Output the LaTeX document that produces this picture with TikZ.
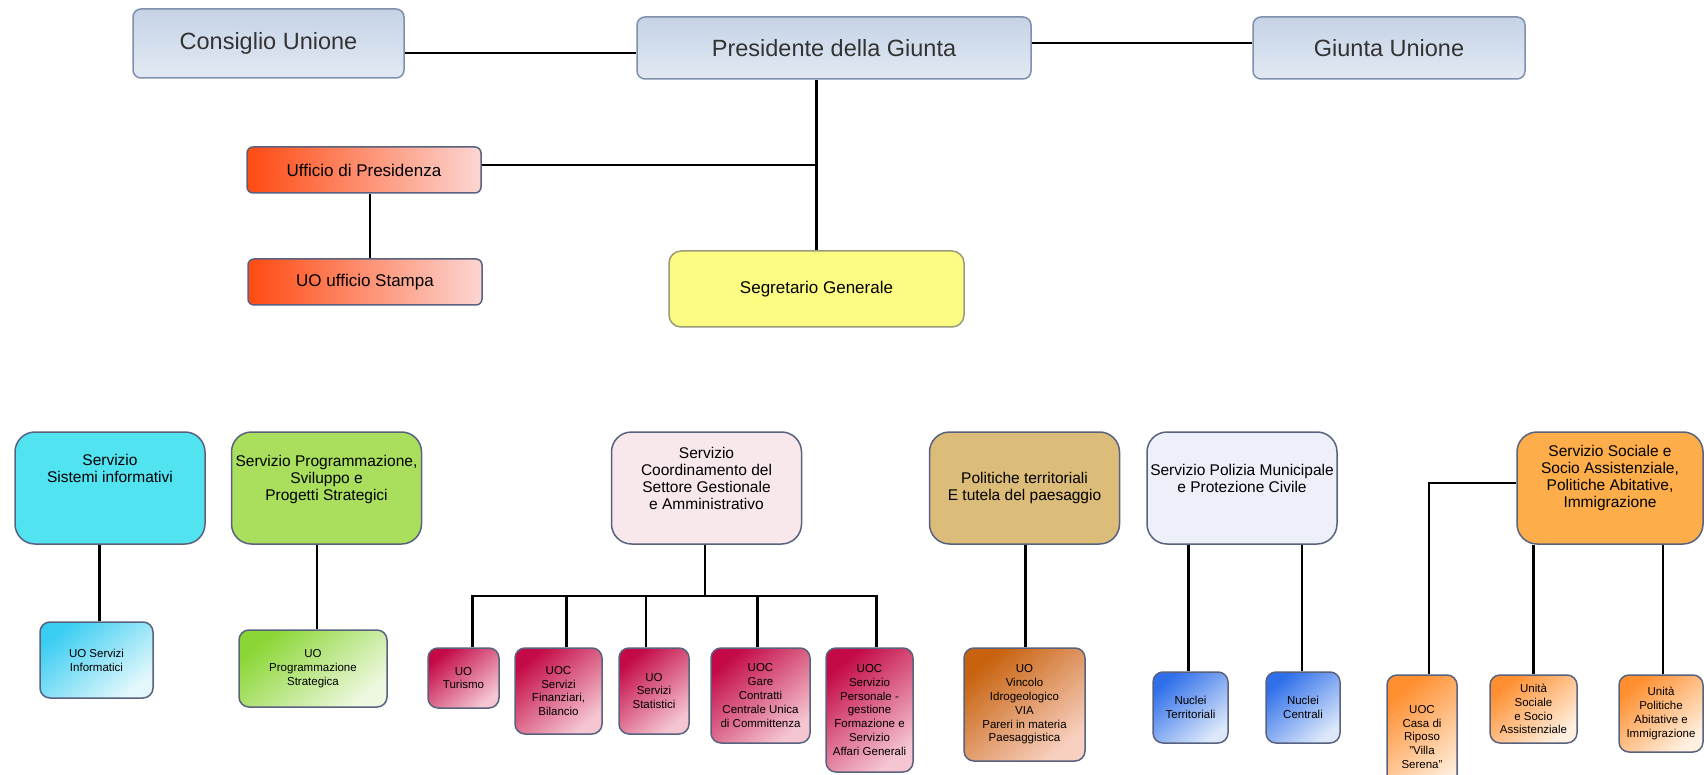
\documentclass[tikz,border=0pt]{standalone}
\usepackage{fontspec}
\setmainfont{Liberation Sans}
\usepackage{tikz}

\definecolor{headTop}{HTML}{C5D3E6}
\definecolor{headBottom}{HTML}{E2E9F3}
\definecolor{headLine}{HTML}{7F90AE}
\definecolor{staffLeft}{HTML}{FF4A12}
\definecolor{staffRight}{HTML}{FCD6D2}
\definecolor{boxLine}{HTML}{58627E}
\definecolor{segFill}{HTML}{FCFC82}
\definecolor{segLine}{HTML}{9A9A78}
\definecolor{sisFill}{HTML}{52E3F1}
\definecolor{progFill}{HTML}{A9DF5C}
\definecolor{coordFill}{HTML}{F8E8EC}
\definecolor{polFill}{HTML}{DBBC78}
\definecolor{pmFill}{HTML}{EDEFF9}
\definecolor{socFill}{HTML}{FDAE4A}
\definecolor{infoTop}{HTML}{3ACDF2}
\definecolor{infoBot}{HTML}{E4F8FC}
\definecolor{stratTop}{HTML}{8AD634}
\definecolor{stratBot}{HTML}{EEF8E0}
\definecolor{crimTop}{HTML}{C40A46}
\definecolor{crimBot}{HTML}{F5C6D2}
\definecolor{vincTop}{HTML}{C8620E}
\definecolor{vincBot}{HTML}{F8D0C0}
\definecolor{nucTop}{HTML}{2F6FEA}
\definecolor{nucBot}{HTML}{DCE8FA}
\definecolor{socTop}{HTML}{FF8E2E}
\definecolor{socBot}{HTML}{FFF0E0}

\tikzset{
  headbox/.style={draw=headLine, line width=1.5pt, rounded corners=8pt,
    top color=headTop, bottom color=headBottom, text=black!80,
    font=\fontsize{23.5}{28}\selectfont},
  staffbox/.style={draw=boxLine, line width=1.5pt, rounded corners=6pt,
    left color=staffLeft, right color=staffRight,
    minimum width=234pt, minimum height=46pt, font=\fontsize{17}{20}\selectfont},
  servbox/.style={draw=boxLine, line width=1.5pt, rounded corners=20pt, align=center,
    minimum width=190pt, minimum height=112pt, inner xsep=2pt, text depth=20pt,
    font=\fontsize{15.5}{17}\selectfont},
  unitbox/.style={draw=boxLine, line width=1.5pt, rounded corners=10pt, align=center,
    inner sep=2pt, font=\fontsize{11.5}{13.8}\selectfont},
  unitshade/.style 2 args={top color=#1, bottom color=#2, shading angle=40},
  link/.style={line width=2.2pt}
}

\begin{document}
\begin{tikzpicture}[x=1pt,y=-1pt]
\useasboundingbox (0,0) rectangle (1704,775);

\node[headbox, minimum width=271pt, minimum height=69pt] (consiglio) at (268.5,43.5) {Consiglio Unione};
\node[headbox, minimum width=394pt, minimum height=62pt] (presidente) at (834,48) {Presidente della Giunta};
\node[headbox, minimum width=272pt, minimum height=62pt] (giunta) at (1389,48) {Giunta Unione};

\node[staffbox] (ufficio) at (364,170) {Ufficio di Presidenza};
\node[staffbox] (stampa) at (365,282) {UO ufficio Stampa};
\node[draw=segLine, line width=1.5pt, rounded corners=12pt, fill=segFill,
  minimum width=295pt, minimum height=76pt, font=\fontsize{17}{20}\selectfont]
  (segretario) at (816.5,289) {Segretario Generale};

\node[servbox, fill=sisFill, text depth=40pt] (sistemi) at (110,488) {Servizio\\Sistemi informativi};
\node[servbox, fill=progFill] (programmazione) at (326.5,488) {Servizio Programmazione,\\Sviluppo e\\Progetti Strategici};
\node[servbox, fill=coordFill] (coordinamento) at (706.5,488) {Servizio\\Coordinamento del\\Settore Gestionale\\e Amministrativo};
\node[servbox, fill=polFill, text depth=4pt] (politiche) at (1024.5,488) {Politiche territoriali\\E tutela del paesaggio};
\node[servbox, fill=pmFill] (polizia) at (1242,488) {Servizio Polizia Municipale\\e Protezione Civile};
\node[servbox, fill=socFill, minimum width=186pt, text depth=24pt] (sociale) at (1610,488) {Servizio Sociale e\\Socio Assistenziale,\\Politiche Abitative,\\Immigrazione};

\node[unitbox, unitshade={infoTop}{infoBot}, minimum width=113pt, minimum height=76pt] (informatici) at (96.5,660) {UO Servizi\\Informatici};
\node[unitbox, unitshade={stratTop}{stratBot}, minimum width=148pt, minimum height=77pt] (strategica) at (313,668.5) {UO\\Programmazione\\Strategica};

\node[unitbox, unitshade={crimTop}{crimBot}, minimum width=71pt, minimum height=60pt] (turismo) at (463.5,678) {UO\\Turismo};
\node[unitbox, unitshade={crimTop}{crimBot}, minimum width=87pt, minimum height=86pt] (finanziari) at (558.5,691) {UOC\\Servizi\\Finanziari,\\Bilancio};
\node[unitbox, unitshade={crimTop}{crimBot}, minimum width=70pt, minimum height=86pt] (statistici) at (654,691) {UO\\Servizi\\Statistici};
\node[unitbox, unitshade={crimTop}{crimBot}, minimum width=99pt, minimum height=95pt] (gare) at (760.5,695.5) {UOC\\Gare\\Contratti\\Centrale Unica\\di Committenza};
\node[unitbox, unitshade={crimTop}{crimBot}, minimum width=87pt, minimum height=124pt] (personale) at (869.5,710) {UOC\\Servizio\\Personale -\\gestione\\Formazione e\\Servizio\\Affari Generali};

\node[unitbox, unitshade={vincTop}{vincBot}, minimum width=121pt, minimum height=113pt] (vincolo) at (1024.5,704.5) {UO\\Vincolo\\Idrogeologico\\VIA\\Pareri in materia\\Paesaggistica};

\node[unitbox, unitshade={nucTop}{nucBot}, minimum width=75pt, minimum height=71pt] (territoriali) at (1190.5,707.5) {Nuclei\\Territoriali};
\node[unitbox, unitshade={nucTop}{nucBot}, minimum width=74pt, minimum height=71pt] (centrali) at (1303,707.5) {Nuclei\\Centrali};

\node[unitbox, unitshade={socTop}{socBot}, minimum width=70pt, minimum height=124pt] (casa) at (1422,737) {UOC\\Casa di\\Riposo\\"Villa\\Serena"};
\node[unitbox, unitshade={socTop}{socBot}, minimum width=87pt, minimum height=68pt] (unitasociale) at (1533.5,709) {Unità\\Sociale\\e Socio\\Assistenziale};
\node[unitbox, unitshade={socTop}{socBot}, minimum width=84pt, minimum height=77pt] (abitative) at (1661,713.5) {Unità\\Politiche\\Abitative e\\Immigrazione};

\coordinate (bus) at (705,596);

\draw[link] ([yshift=-9.5pt]consiglio.east) -- ([yshift=-9.5pt]consiglio.east -| presidente.west);
\draw[link] ([yshift=5pt]presidente.east) -- ([yshift=5pt]presidente.east -| giunta.west);
\draw[link] (presidente.south -| segretario.north) -- (segretario.north);
\draw[link] ([yshift=5pt]ufficio.east) -- ([yshift=5pt]ufficio.east -| segretario.north);
\draw[link] ([xshift=6pt]ufficio.south) -- ([xshift=6pt]ufficio.south |- stampa.north);

\draw[link] (coordinamento.south -| bus) -- (bus);
\foreach \kid/\dx in {turismo/9, finanziari/8, statistici/-8, gare/-3, personale/7}
  \draw[link] ([xshift=\dx pt]\kid.north) |- (bus);
\foreach \kid/\boss/\dx in {informatici/sistemi/3, strategica/programmazione/4, vincolo/politiche/1,
    territoriali/polizia/-2, centrali/polizia/-1, unitasociale/sociale/0, abitative/sociale/2}
  \draw[link] ([xshift=\dx pt]\kid.north) -- ([xshift=\dx pt]\kid.north |- \boss.south);
\draw[link] ([yshift=5pt]sociale.west) -| ([xshift=7pt]casa.north);
\end{tikzpicture}
\end{document}
